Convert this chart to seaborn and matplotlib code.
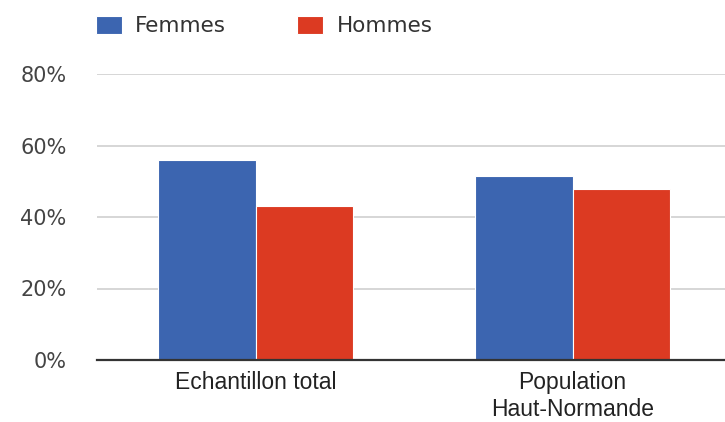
import pandas as pd
import matplotlib
matplotlib.use("Agg")
import matplotlib.pyplot as plt
import seaborn as sns
from matplotlib.ticker import FuncFormatter

# values (percent)
categories = ["Echantillon total", "Population\nHaut-Normande"]
series = ["Femmes", "Hommes"]
femmes = [55.9, 51.5]
hommes = [43.2, 47.8]
colors = ["#3c65b0", "#dc3a22"]
y_ticks = [0, 20, 40, 60, 80]

df = pd.DataFrame({
    "categorie": categories * 2,
    "sexe": ["Femmes"] * len(categories) + ["Hommes"] * len(categories),
    "valeur": femmes + hommes,
})

sns.set_style("white")
plt.rcParams['font.family'] = ['DejaVu Sans']

fig = plt.figure(figsize=(7.25, 4.22), dpi=100)
ax = fig.add_axes([97 / 725, 1 - 360 / 422, 634 / 725, 286 / 422])

sns.barplot(data=df, x="categorie", y="valeur", hue="sexe",
            palette=colors, width=0.616, edgecolor="white", linewidth=0.8,
            saturation=1, ax=ax, legend=True)

ax.set_ylim(0, 80)
ax.set_yticks(y_ticks)
ax.yaxis.set_major_formatter(FuncFormatter(lambda v, _: f"{int(v)}%"))
ax.grid(axis="y", color="#cccccc", linewidth=1.1)
ax.set_axisbelow(True)
for s in ["top", "right", "left"]:
    ax.spines[s].set_visible(False)
ax.spines["bottom"].set_color("#333333")
ax.spines["bottom"].set_linewidth(1.6)
ax.spines["bottom"].set_zorder(5)

ax.tick_params(axis="y", length=0, pad=22, labelsize=15, labelcolor="#444444")
ax.tick_params(axis="x", length=0, pad=8, labelsize=16.5, labelcolor="#222222")
for lab in ax.get_xticklabels():
    lab.set_fontfamily(["Liberation Sans", "DejaVu Sans"])
    lab.set_linespacing(1.2)
ax.set_xlabel("")
ax.set_ylabel("")

handles, labels = ax.get_legend_handles_labels()
ax.get_legend().remove()
leg = fig.legend(handles, labels, loc="center left",
                 bbox_to_anchor=(96 / 725, 1 - 26 / 422), ncol=2, frameon=False,
                 fontsize=15.5, handlelength=1.2, handleheight=0.92,
                 handletextpad=0.62, columnspacing=3.3, borderpad=0,
                 borderaxespad=0)
for t in leg.get_texts():
    t.set_color("#333333")

fig.savefig("out.png", dpi=100)
plt.close(fig)
